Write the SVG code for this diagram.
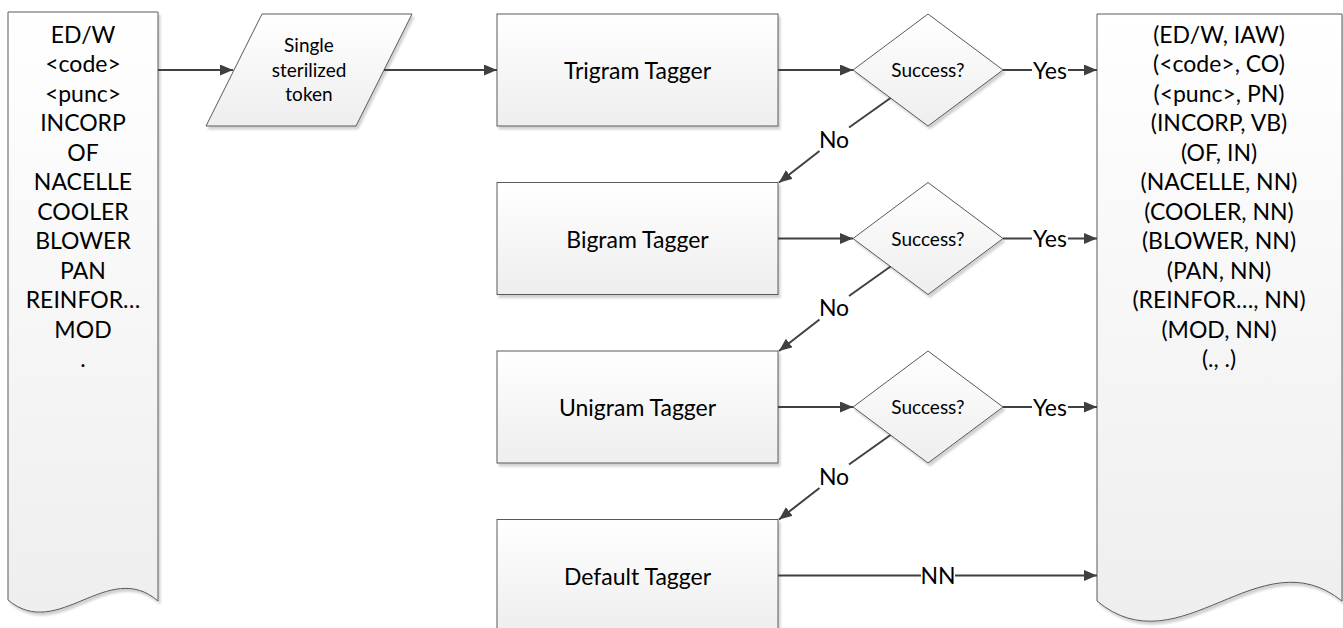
<svg xmlns="http://www.w3.org/2000/svg" width="1343" height="628" viewBox="0 0 1343 628">
<defs>
<linearGradient id="g" x1="0" y1="0" x2="0" y2="1">
<stop offset="0" stop-color="#ffffff"/>
<stop offset="1" stop-color="#eeeeee"/>
</linearGradient>
<filter id="sh" x="-10%" y="-10%" width="130%" height="130%">
<feDropShadow dx="2" dy="3" stdDeviation="1" flood-color="#000000" flood-opacity="0.18"/>
</filter>
<marker id="ah" markerUnits="userSpaceOnUse" markerWidth="14" markerHeight="12" refX="13" refY="5.5" orient="auto">
<path d="M0,0 L13,5.5 L0,11 z" fill="#404040"/>
</marker>
<style>
.shape{fill:url(#g);stroke:#5a5a5a;stroke-width:1;filter:url(#sh)}
.t{font-family:Lato,"Open Sans","Liberation Sans",sans-serif;fill:#000;text-anchor:middle}
.big{font-size:23px}
.small{font-size:19px}
.c{fill:none;stroke:#404040;stroke-width:2}
.ca{fill:none;stroke:#404040;stroke-width:2;marker-end:url(#ah)}
</style>
</defs>

<g id="input-doc">
<path class="shape" d="M8,12 L158,12 L158,601 C108,558 58,642 8,600 Z"/>
<text class="t big" x="83" y="42.5">ED/W</text>
<text class="t big" x="83" y="72">&lt;code&gt;</text>
<text class="t big" x="83" y="101.5">&lt;punc&gt;</text>
<text class="t big" x="83" y="131">INCORP</text>
<text class="t big" x="83" y="160.5">OF</text>
<text class="t big" x="83" y="190">NACELLE</text>
<text class="t big" x="83" y="219.5">COOLER</text>
<text class="t big" x="83" y="249">BLOWER</text>
<text class="t big" x="83" y="278.5">PAN</text>
<text class="t big" x="83" y="308">REINFOR…</text>
<text class="t big" x="83" y="337.5">MOD</text>
<text class="t big" x="83" y="367">.</text>
</g>

<g id="token">
<path class="shape" d="M262,14 L412,14 L356,126 L206,126 Z"/>
<text class="t small" x="309" y="52">Single</text>
<text class="t small" x="309" y="76.5">sterilized</text>
<text class="t small" x="309" y="101">token</text>
</g>

<g id="trigram">
<rect class="shape" x="497" y="14" width="281" height="112"/>
<text class="t big" x="637.5" y="79">Trigram Tagger</text>
</g>
<g id="bigram">
<rect class="shape" x="497" y="182.5" width="281" height="112"/>
<text class="t big" x="637.5" y="247.5">Bigram Tagger</text>
</g>
<g id="unigram">
<rect class="shape" x="497" y="351" width="281" height="112"/>
<text class="t big" x="637.5" y="416">Unigram Tagger</text>
</g>
<g id="default">
<rect class="shape" x="497" y="519.5" width="281" height="112"/>
<text class="t big" x="637.5" y="584.5">Default Tagger</text>
</g>

<g id="success1">
<path class="shape" d="M853,70 L928,14 L1003,70 L928,126 Z"/>
<text class="t small" x="928" y="77">Success?</text>
</g>
<g id="success2">
<path class="shape" d="M853,238.5 L928,182.5 L1003,238.5 L928,294.5 Z"/>
<text class="t small" x="928" y="245.5">Success?</text>
</g>
<g id="success3">
<path class="shape" d="M853,407 L928,351 L1003,407 L928,463 Z"/>
<text class="t small" x="928" y="414">Success?</text>
</g>

<g id="output-doc">
<path class="shape" d="M1097,14 L1342,14 L1342,601 C1260,535 1180,670 1097,601 Z"/>
<text class="t big" x="1219" y="42.5">(ED/W, IAW)</text>
<text class="t big" x="1219" y="72">(&lt;code&gt;, CO)</text>
<text class="t big" x="1219" y="101.5">(&lt;punc&gt;, PN)</text>
<text class="t big" x="1219" y="131">(INCORP, VB)</text>
<text class="t big" x="1219" y="160.5">(OF, IN)</text>
<text class="t big" x="1219" y="190">(NACELLE, NN)</text>
<text class="t big" x="1219" y="219.5">(COOLER, NN)</text>
<text class="t big" x="1219" y="249">(BLOWER, NN)</text>
<text class="t big" x="1219" y="278.5">(PAN, NN)</text>
<text class="t big" x="1219" y="308">(REINFOR…, NN)</text>
<text class="t big" x="1219" y="337.5">(MOD, NN)</text>
<text class="t big" x="1219" y="367">(., .)</text>
</g>

<g id="connectors">
<path class="ca" d="M158,70 L233,70"/>
<path class="ca" d="M384,70 L497,70"/>
<path class="ca" d="M778,70 L853,70"/>
<path class="ca" d="M778,238.5 L853,238.5"/>
<path class="ca" d="M778,407 L853,407"/>

<path class="c" d="M1003,70 L1032,70"/>
<path class="ca" d="M1068,70 L1097,70"/>
<text class="t big" x="1050" y="78.5">Yes</text>
<path class="c" d="M1003,238.5 L1032,238.5"/>
<path class="ca" d="M1068,238.5 L1097,238.5"/>
<text class="t big" x="1050" y="247">Yes</text>
<path class="c" d="M1003,407 L1032,407"/>
<path class="ca" d="M1068,407 L1097,407"/>
<text class="t big" x="1050" y="415.5">Yes</text>

<path class="c" d="M890.5,98 L849,127.5"/>
<path class="ca" d="M819.5,151 L779,182.5"/>
<text class="t big" x="834" y="147.5">No</text>
<path class="c" d="M890.5,266.5 L849,296"/>
<path class="ca" d="M819.5,319.5 L779,351"/>
<text class="t big" x="834" y="316">No</text>
<path class="c" d="M890.5,435 L849,464.5"/>
<path class="ca" d="M819.5,488 L779,519.5"/>
<text class="t big" x="834" y="484.5">No</text>

<path class="c" d="M778,575.5 L921,575.5"/>
<path class="ca" d="M955,575.5 L1097,575.5"/>
<text class="t big" x="938" y="584">NN</text>
</g>
</svg>
